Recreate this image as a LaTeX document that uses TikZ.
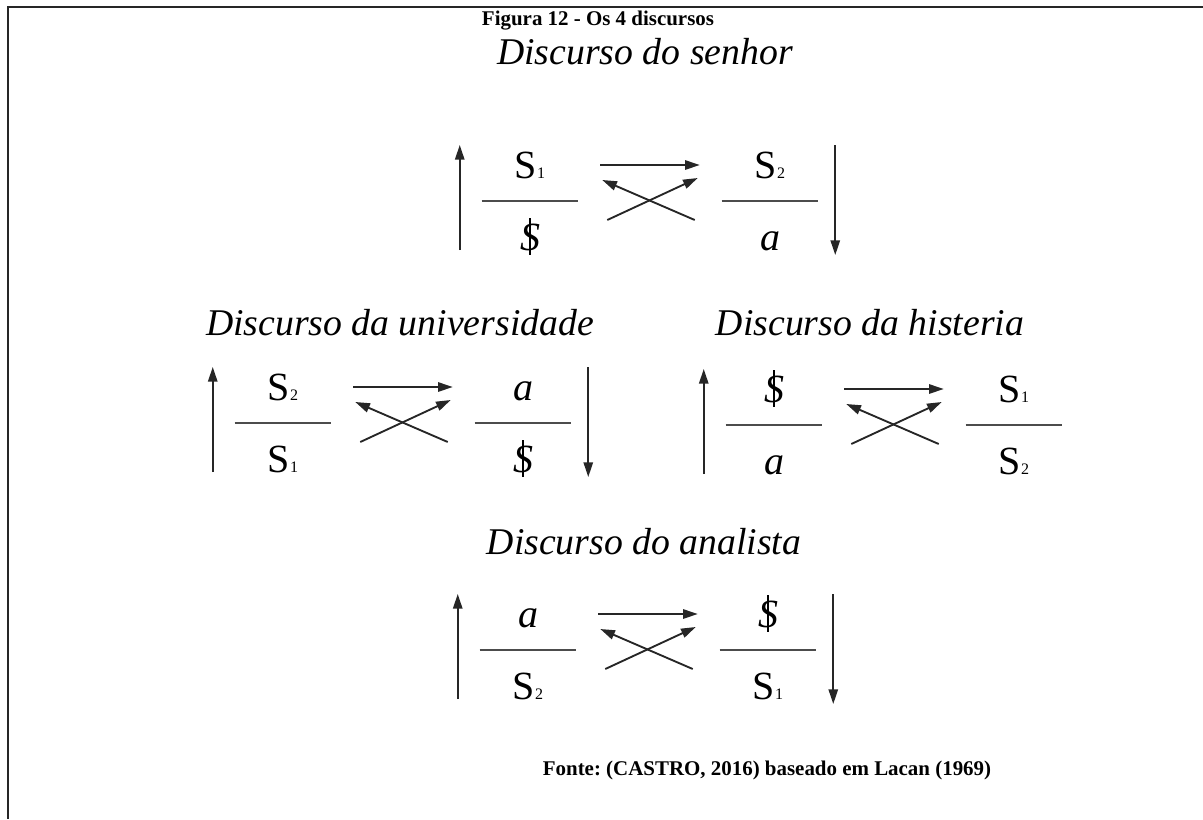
\documentclass[tikz,border=0pt]{standalone}
\usepackage{fontspec}
\setmainfont{Liberation Serif}
\usepackage{tikz}
\usetikzlibrary{arrows.meta}

\newcommand{\Sn}[1]{S\raisebox{-0.5pt}{\fontsize{12}{12}\selectfont #1}}
\newcommand{\barS}{\ooalign{\textit{S}\cr\hidewidth\rule[-0.12em]{0.05em}{0.92em}\hidewidth\cr}}

\begin{document}
\begin{tikzpicture}[x=0.75pt, y=-0.75pt,
    frame/.style={line width=2.2pt, draw=black!85},
    caption/.style={anchor=base, font=\fontsize{15.7}{15.7}\selectfont\bfseries\frenchspacing},
    titulo/.style={anchor=base, font=\fontsize{28.3}{28.3}\selectfont\itshape},
    term/.style={anchor=base, minimum width=72pt, inner sep=0pt, font=\fontsize{30}{30}\selectfont},
    bar/.style={line width=1.5pt, draw=black!70},
    arrow/.style={-{Triangle[length=11pt,width=7pt]}, line width=1.4pt, draw=black!85}
]
\useasboundingbox (0,0) rectangle (1203,819);
\draw[frame] (1203,7) -- (8,7) -- (8,819);

% Caption
\node[caption] (fig) at (598,25) {Figura 12 - Os 4 discursos};

% Discurso do senhor
\node[titulo] (tSenhor) at (645,64) {Discurso do senhor};
\node[term] (senA) at (530,178) {\Sn{1}};
\node[term] (senO) at (770,178) {\Sn{2}};
\node[term] (senV) at (530,250) {\barS};
\node[term] (senP) at (770,250) {\textit{a}};
\draw[bar] ([shift={(0,23)}]senA.base west) -- ([shift={(0,23)}]senA.base east);
\draw[bar] ([shift={(0,23)}]senO.base west) -- ([shift={(0,23)}]senO.base east);
\draw[arrow] ([shift={(22,-13)}]senA.base east) -- ([shift={(-22,-13)}]senO.base west);
\draw[arrow] ([shift={(29,-30)}]senV.base east) -- ([shift={(-24,0)}]senO.base west);
\draw[arrow] ([shift={(-27,-30)}]senP.base west) -- ([shift={(24,2)}]senA.base east);
\draw[arrow] ([shift={(-22,0)}]senV.base west) -- ([shift={(-22,-33)}]senA.base west);
\draw[arrow] ([shift={(17,-33)}]senO.base east) -- ([shift={(17,5)}]senP.base east);

% Discurso da universidade
\node[titulo] (tUniv) at (400,335) {Discurso da universidade};
\node[term] (uniA) at (283,400) {\Sn{2}};
\node[term] (uniO) at (523,400) {\textit{a}};
\node[term] (uniV) at (283,472) {\Sn{1}};
\node[term] (uniP) at (523,472) {\barS};
\draw[bar] ([shift={(0,23)}]uniA.base west) -- ([shift={(0,23)}]uniA.base east);
\draw[bar] ([shift={(0,23)}]uniO.base west) -- ([shift={(0,23)}]uniO.base east);
\draw[arrow] ([shift={(22,-13)}]uniA.base east) -- ([shift={(-22,-13)}]uniO.base west);
\draw[arrow] ([shift={(29,-30)}]uniV.base east) -- ([shift={(-24,0)}]uniO.base west);
\draw[arrow] ([shift={(-27,-30)}]uniP.base west) -- ([shift={(24,2)}]uniA.base east);
\draw[arrow] ([shift={(-22,0)}]uniV.base west) -- ([shift={(-22,-33)}]uniA.base west);
\draw[arrow] ([shift={(17,-33)}]uniO.base east) -- ([shift={(17,5)}]uniP.base east);

% Discurso da histeria
\node[titulo] (tHist) at (870,335) {Discurso da histeria};
\node[term] (hisA) at (774,402) {\barS};
\node[term] (hisO) at (1014,402) {\Sn{1}};
\node[term] (hisV) at (774,474) {\textit{a}};
\node[term] (hisP) at (1014,474) {\Sn{2}};
\draw[bar] ([shift={(0,23)}]hisA.base west) -- ([shift={(0,23)}]hisA.base east);
\draw[bar] ([shift={(0,23)}]hisO.base west) -- ([shift={(0,23)}]hisO.base east);
\draw[arrow] ([shift={(22,-13)}]hisA.base east) -- ([shift={(-22,-13)}]hisO.base west);
\draw[arrow] ([shift={(29,-30)}]hisV.base east) -- ([shift={(-24,0)}]hisO.base west);
\draw[arrow] ([shift={(-27,-30)}]hisP.base west) -- ([shift={(24,2)}]hisA.base east);
\draw[arrow] ([shift={(-22,0)}]hisV.base west) -- ([shift={(-22,-33)}]hisA.base west);

% Discurso do analista
\node[titulo] (tAnal) at (644,554) {Discurso do analista};
\node[term] (anaA) at (528,627) {\textit{a}};
\node[term] (anaO) at (768,627) {\barS};
\node[term] (anaV) at (528,699) {\Sn{2}};
\node[term] (anaP) at (768,699) {\Sn{1}};
\draw[bar] ([shift={(0,23)}]anaA.base west) -- ([shift={(0,23)}]anaA.base east);
\draw[bar] ([shift={(0,23)}]anaO.base west) -- ([shift={(0,23)}]anaO.base east);
\draw[arrow] ([shift={(22,-13)}]anaA.base east) -- ([shift={(-22,-13)}]anaO.base west);
\draw[arrow] ([shift={(29,-30)}]anaV.base east) -- ([shift={(-24,0)}]anaO.base west);
\draw[arrow] ([shift={(-27,-30)}]anaP.base west) -- ([shift={(24,2)}]anaA.base east);
\draw[arrow] ([shift={(-22,0)}]anaV.base west) -- ([shift={(-22,-33)}]anaA.base west);
\draw[arrow] ([shift={(17,-33)}]anaO.base east) -- ([shift={(17,5)}]anaP.base east);

% Source
\node[caption] (fonte) at (767,775) {Fonte: (CASTRO, 2016) baseado em Lacan (1969)};

\end{tikzpicture}
\end{document}
